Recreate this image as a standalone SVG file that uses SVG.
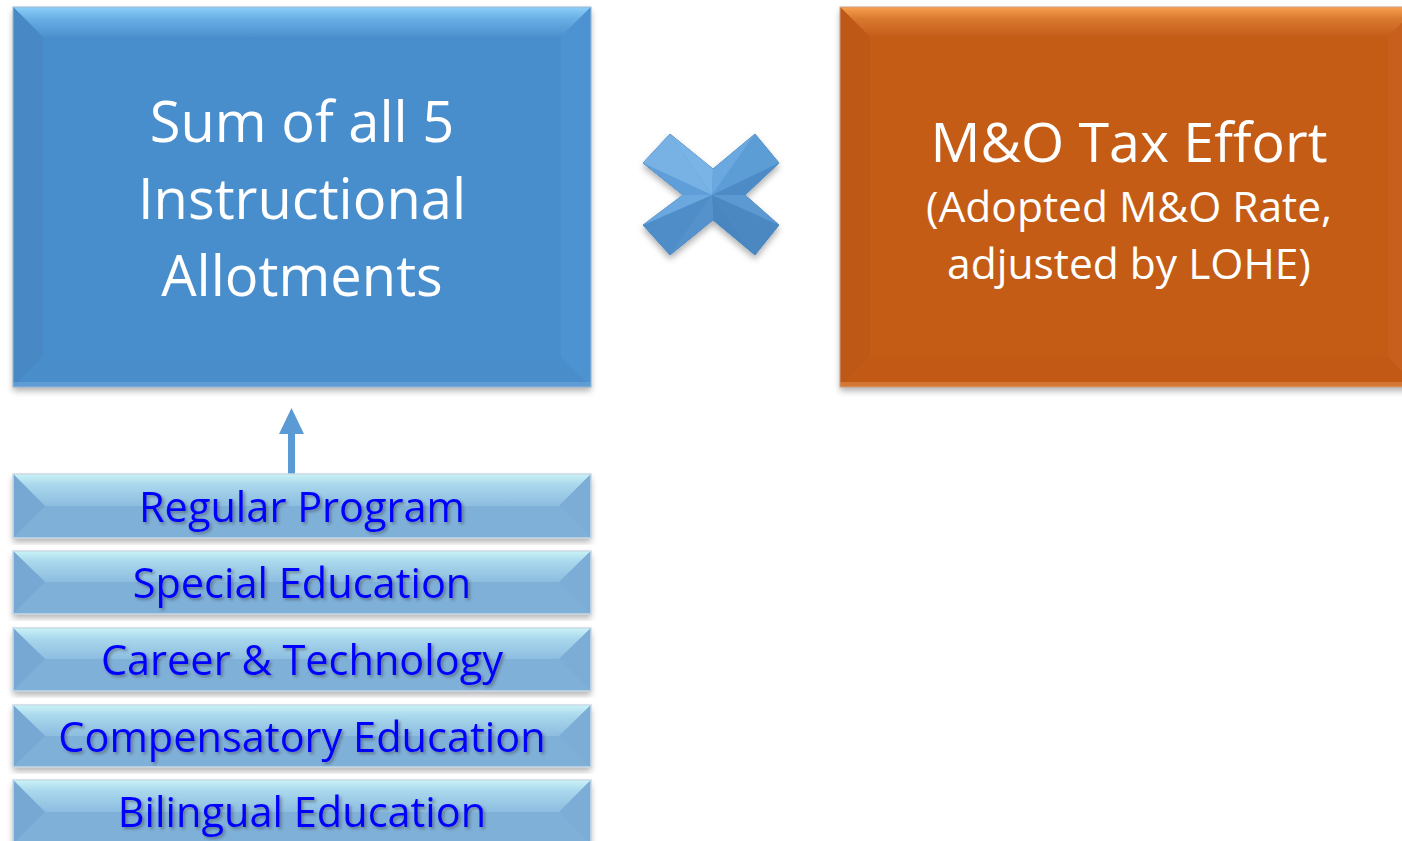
<svg xmlns="http://www.w3.org/2000/svg" width="1402" height="841" viewBox="0 0 1402 841">
  <defs>
    <linearGradient id="blueTop" x1="0" y1="0" x2="0" y2="1">
      <stop offset="0" stop-color="#8ccff8"/>
      <stop offset="0.4" stop-color="#69aee4"/>
      <stop offset="1" stop-color="#4c90ce"/>
    </linearGradient>
    <linearGradient id="orangeTop" x1="0" y1="0" x2="0" y2="1">
      <stop offset="0" stop-color="#f8a050"/>
      <stop offset="0.4" stop-color="#d8782e"/>
      <stop offset="1" stop-color="#c45c19"/>
    </linearGradient>
    <linearGradient id="barTop" x1="0" y1="0" x2="0" y2="1">
      <stop offset="0" stop-color="#c9f3f6"/>
      <stop offset="0.35" stop-color="#a9d7ec"/>
      <stop offset="1" stop-color="#8dbde0"/>
    </linearGradient>
    <filter id="boxShadow" x="-5%" y="-5%" width="110%" height="115%">
      <feDropShadow dx="0" dy="4" stdDeviation="3" flood-color="#000" flood-opacity="0.3"/>
    </filter>
    <filter id="textShadow" x="-5%" y="-20%" width="110%" height="150%">
      <feDropShadow dx="2" dy="2" stdDeviation="1.5" flood-color="#333" flood-opacity="0.45"/>
    </filter>
  </defs>
  <style>
    .big { font-family: "Open Sans", "Liberation Sans", sans-serif; fill: #ffffff; text-anchor: middle; }
    .bar { font-family: "Open Sans", "Liberation Sans", sans-serif; font-size: 41.5px; fill: #0000ff; text-anchor: middle; filter: url(#textShadow); }
    .barEdge { stroke: #c9d9e6; stroke-width: 1.5; fill: none; }
  </style>

  <rect width="1402" height="841" fill="#ffffff"/>

  <!-- Sum of allotments box -->
  <g id="sum-box">
    <rect x="13" y="7" width="578" height="380" fill="#4a8ecc" filter="url(#boxShadow)"/>
    <polygon points="13,7 591,7 561,37 43,37" fill="url(#blueTop)"/>
    <polygon points="13,7 43,37 43,357 13,387" fill="#4788c5"/>
    <polygon points="591,7 591,387 561,357 561,37" fill="#4d93d2"/>
    <polygon points="13,387 43,357 561,357 591,387" fill="#4a8dcb"/>
    <rect x="13" y="382" width="578" height="5" fill="#6aa6dc" opacity="0.6"/>
    <rect x="13" y="7" width="578" height="380" fill="none" stroke="#9bb8d4" stroke-width="1"/>
    <text class="big" x="302" y="142" font-size="56">Sum of all 5</text>
    <text class="big" x="302" y="219" font-size="56">Instructional</text>
    <text class="big" x="302" y="296" font-size="56">Allotments</text>
  </g>

  <!-- Multiplication sign -->
  <g id="times" filter="url(#boxShadow)">
    <polygon points="670,134 713,169 755,134 779,163 745,195 779,225 755,255 713,220 670,255 643,225 683,195 643,163" fill="#5b9bd5" stroke="#4f88bd" stroke-width="1"/>
    <polygon points="712,195 670,134 713,169" fill="#7ab4e6"/>
    <polygon points="712,195 713,169 755,134" fill="#6aa8df"/>
    <polygon points="712,195 755,134 779,163" fill="#5d9dd6"/>
    <polygon points="712,195 779,163 745,195" fill="#4d8bc6"/>
    <polygon points="712,195 745,195 779,225" fill="#5b99d2"/>
    <polygon points="712,195 779,225 755,255" fill="#4c88c2"/>
    <polygon points="712,195 755,255 713,220" fill="#4a86c0"/>
    <polygon points="712,195 713,220 670,255" fill="#5592cc"/>
    <polygon points="712,195 670,255 643,225" fill="#4f8dc8"/>
    <polygon points="712,195 643,225 683,195" fill="#6aa8df"/>
    <polygon points="712,195 683,195 643,163" fill="#5e9ed8"/>
    <polygon points="712,195 643,163 670,134" fill="#78b2e4"/>
  </g>

  <!-- Tax effort box -->
  <g id="tax-box">
    <rect x="840" y="7" width="578" height="380" fill="#c45b18" filter="url(#boxShadow)"/>
    <polygon points="840,7 1418,7 1388,37 870,37" fill="url(#orangeTop)"/>
    <polygon points="840,7 870,37 870,357 840,387" fill="#be5816"/>
    <polygon points="1418,7 1418,387 1388,357 1388,37" fill="#c85f1c"/>
    <polygon points="840,387 870,357 1388,357 1418,387" fill="#c25a16"/>
    <rect x="840" y="382" width="578" height="5" fill="#e08a4a" opacity="0.6"/>
    <rect x="840" y="7" width="578" height="380" fill="none" stroke="#d0a080" stroke-width="1"/>
    <text class="big" x="1129" y="162" font-size="55.5">M&amp;O Tax Effort</text>
    <text class="big" x="1129" y="222" font-size="42.5">(Adopted M&amp;O Rate,</text>
    <text class="big" x="1129" y="279" font-size="42.5">adjusted by LOHE)</text>
  </g>

  <!-- Connector from allotment list to sum -->
  <g id="connectors">
    <rect x="288" y="432" width="7" height="42" fill="#5b9bd5"/>
    <polygon points="279,434 291.5,408 304,434" fill="#5b9bd5"/>
  </g>

  <!-- Allotment bars -->
  <g id="regular-program">
    <rect x="13" y="474" width="578" height="64" fill="#7fb0d8" filter="url(#boxShadow)"/>
    <polygon points="13,474 591,474 559,506 45,506" fill="url(#barTop)"/>
    <polygon points="13,474 45,506 13,538" fill="#77a8d3"/>
    <polygon points="591,474 591,538 559,506" fill="#7cadd6"/>
    <rect x="13" y="474" width="578" height="64" class="barEdge"/>
    <text class="bar" x="302" y="522">Regular Program</text>
  </g>
  <g id="special-education">
    <rect x="13" y="551" width="578" height="63" fill="#7fb0d8" filter="url(#boxShadow)"/>
    <polygon points="13,551 591,551 559,582 45,582" fill="url(#barTop)"/>
    <polygon points="13,551 45,582 13,614" fill="#77a8d3"/>
    <polygon points="591,551 591,614 559,582" fill="#7cadd6"/>
    <rect x="13" y="551" width="578" height="63" class="barEdge"/>
    <text class="bar" x="302" y="598">Special Education</text>
  </g>
  <g id="career-technology">
    <rect x="13" y="628" width="578" height="63" fill="#7fb0d8" filter="url(#boxShadow)"/>
    <polygon points="13,628 591,628 559,659 45,659" fill="url(#barTop)"/>
    <polygon points="13,628 45,659 13,691" fill="#77a8d3"/>
    <polygon points="591,628 591,691 559,659" fill="#7cadd6"/>
    <rect x="13" y="628" width="578" height="63" class="barEdge"/>
    <text class="bar" x="302" y="675">Career &amp; Technology</text>
  </g>
  <g id="compensatory-education">
    <rect x="13" y="705" width="578" height="62" fill="#7fb0d8" filter="url(#boxShadow)"/>
    <polygon points="13,705 591,705 559,736 45,736" fill="url(#barTop)"/>
    <polygon points="13,705 45,736 13,767" fill="#77a8d3"/>
    <polygon points="591,705 591,767 559,736" fill="#7cadd6"/>
    <rect x="13" y="705" width="578" height="62" class="barEdge"/>
    <text class="bar" x="302" y="752">Compensatory Education</text>
  </g>
  <g id="bilingual-education">
    <rect x="13" y="780" width="578" height="64" fill="#7fb0d8" filter="url(#boxShadow)"/>
    <polygon points="13,780 591,780 559,812 45,812" fill="url(#barTop)"/>
    <polygon points="13,780 45,812 13,844" fill="#77a8d3"/>
    <polygon points="591,780 591,844 559,812" fill="#7cadd6"/>
    <rect x="13" y="780" width="578" height="64" class="barEdge"/>
    <text class="bar" x="302" y="827">Bilingual Education</text>
  </g>
</svg>
